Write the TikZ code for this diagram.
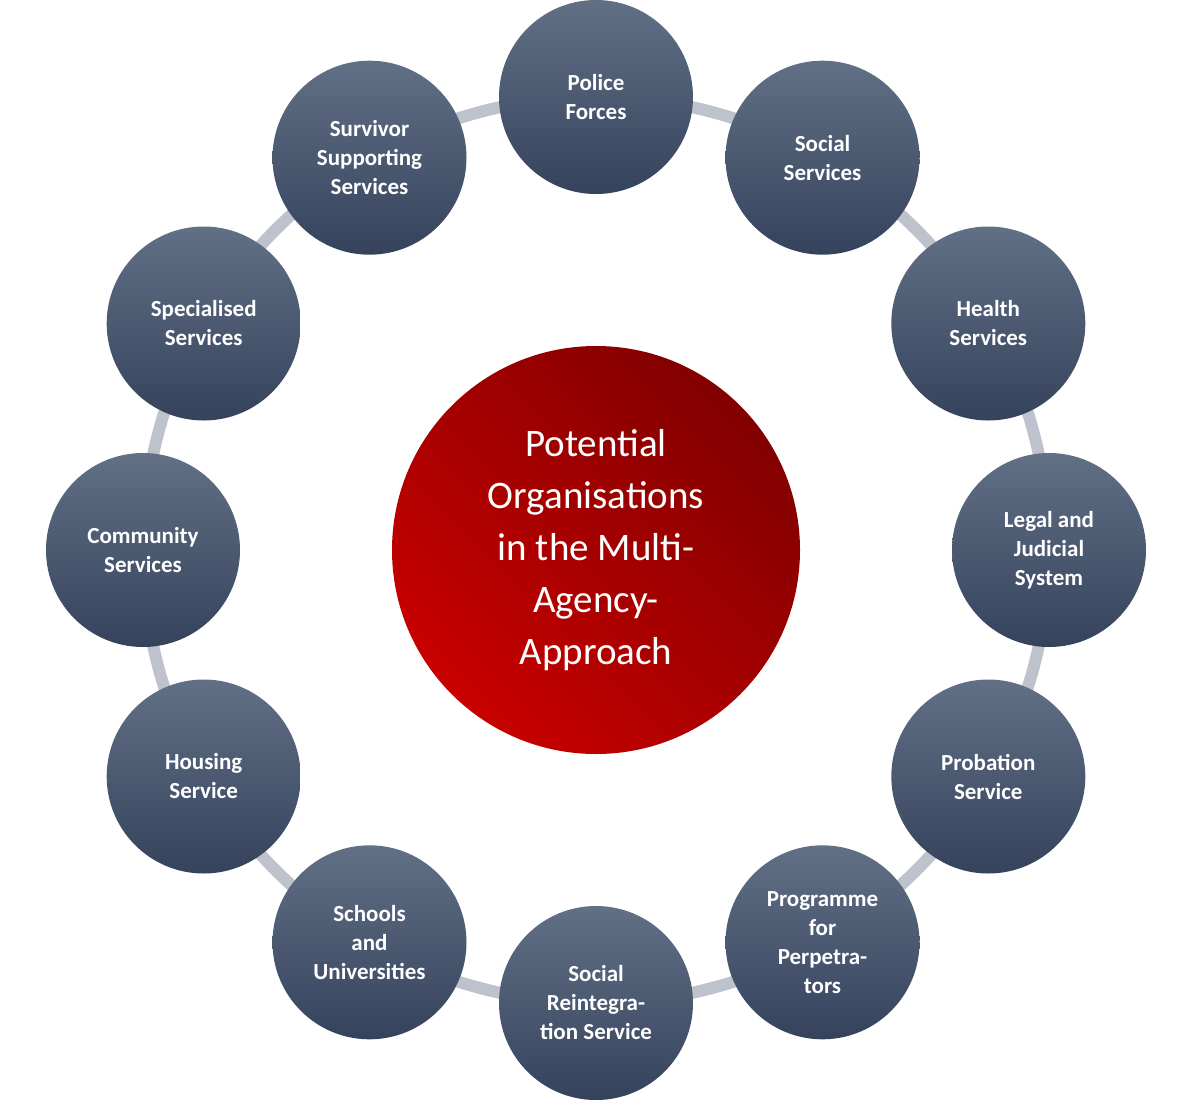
\documentclass[tikz,border=0pt]{standalone}
\usepackage{fontspec}
\setmainfont{Carlito}
\usetikzlibrary{calc}
\begin{document}
\begin{tikzpicture}[x=1pt,y=1pt,
  ring/.style={line width=12pt,draw={rgb,255:red,190;green,194;blue,204}},
  org/.style={circle,minimum size=194pt,inner sep=0pt,align=center,text=white,
    font=\fontsize{23}{29}\selectfont\bfseries,
    top color={rgb,255:red,98;green,112;blue,134},bottom color={rgb,255:red,52;green,66;blue,92}},
  hub/.style={circle,minimum size=408pt,inner sep=0pt,align=center,text=white,
    font=\fontsize{39}{52}\selectfont,shading=axis,
    left color={rgb,255:red,130;green,0;blue,0},right color={rgb,255:red,200;green,0;blue,0},shading angle=-45}]
\useasboundingbox (0,0) rectangle (1186,-1100);
\coordinate (c) at (596,-550);
\draw[ring] (c) circle (453);
\node[hub] (h) at (c) {Potential\\Organisations\\in the Multi-\\Agency-\\Approach};
\foreach \a/\n/\t in {90/p/{Police\\Forces},60/s/{Social\\Services},30/he/{Health\\Services},
  0/l/{Legal and\\Judicial\\System},-30/pr/{Probation\\Service},-60/pp/{Programme\\for\\Perpetra-\\tors},
  -90/sr/{Social\\Reintegra-\\tion Service},-120/su/{Schools\\and\\Universities},-150/ho/{Housing\\Service},
  180/co/{Community\\Services},150/sp/{Specialised\\Services},120/sv/{Survivor\\Supporting\\Services}}
  \node[org] (\n) at ($(c)+(\a:453)$) {\t};
\end{tikzpicture}
\end{document}
